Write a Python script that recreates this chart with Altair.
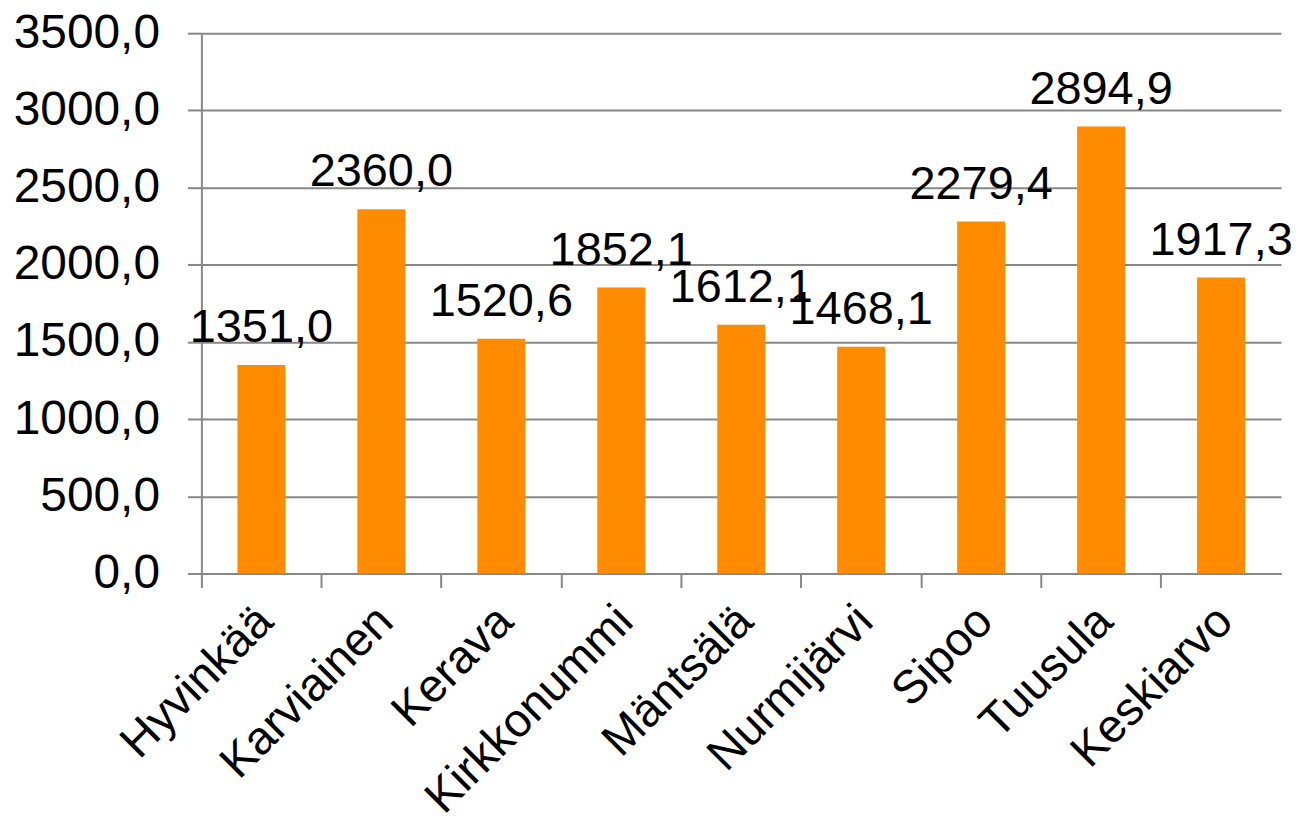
import altair as alt
import pandas as pd

kunnat = ["Hyvinkää", "Karviainen", "Kerava", "Kirkkonummi", "Mäntsälä",
          "Nurmijärvi", "Sipoo", "Tuusula", "Keskiarvo"]
arvot = [1351.0, 2360.0, 1520.6, 1852.1, 1612.1, 1468.1, 2279.4, 2894.9, 1917.3]

df = pd.DataFrame({"kunta": kunnat, "arvo": arvot})

FONT = "Liberation Sans"
GRAY = "#878787"

x = alt.X("kunta:N", sort=kunnat, title=None,
          scale=alt.Scale(paddingInner=0.6, paddingOuter=0.3),
          axis=alt.Axis(labelAngle=-45, labelFontSize=47, labelFont=FONT,
                        labelColor="black", bandPosition=-0.75, labelOffset=-12,
                        labelLimit=0, labelBound=False, labelOverlap=False,
                        tickSize=14, tickColor=GRAY, tickWidth=2,
                        domainColor=GRAY, domainWidth=2, labelPadding=10,
                        grid=False))
y = alt.Y("arvo:Q", title=None,
          scale=alt.Scale(domain=[0, 3500], nice=False),
          axis=alt.Axis(values=list(range(0, 3501, 500)),
                        labelExpr="replace(format(datum.value, '.1f'), '.', ',')",
                        labelFontSize=48, labelFont=FONT, labelColor="black",
                        tickSize=14, tickColor=GRAY, tickWidth=2,
                        domainColor=GRAY, domainWidth=2,
                        gridColor=GRAY, gridWidth=2, labelPadding=28))

bars = alt.Chart(df).mark_bar(color="#FF8C00").encode(x=x, y=y)

text = alt.Chart(df).transform_calculate(
    lbl="replace(format(datum.arvo, '.1f'), '.', ',')"
).mark_text(fontSize=47, font=FONT, color="black", baseline="alphabetic", dy=-23).encode(
    x=alt.X("kunta:N", sort=kunnat),
    y="arvo:Q",
    text="lbl:N",
)

chart = alt.layer(bars, text).properties(
    width=1083, height=542,
    autosize=alt.AutoSizeParams(type="none"),
    padding={"left": 194, "top": 24, "right": 14, "bottom": 244},
).configure_view(stroke=None)

chart.save("out.html", embed_options={"renderer": "svg", "actions": False})
